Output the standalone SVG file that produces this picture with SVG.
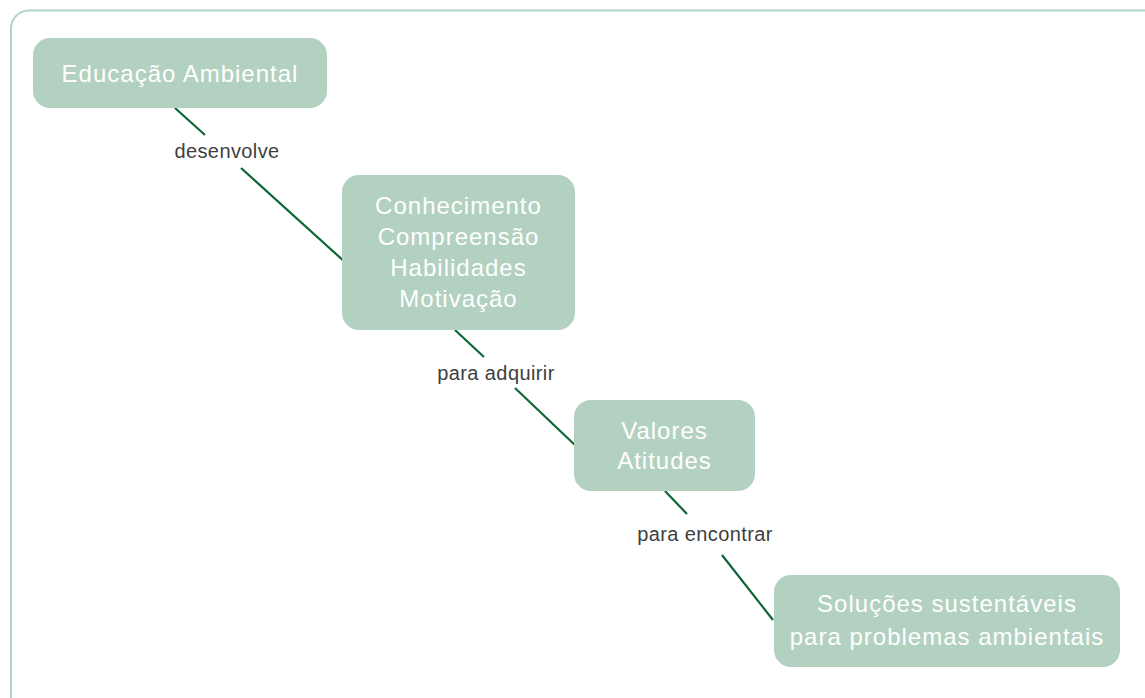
<svg xmlns="http://www.w3.org/2000/svg" width="1145" height="698" viewBox="0 0 1145 698">
<style>
.node{fill:#b3d1c0}
.nt{font-family:"Liberation Sans",Arial,sans-serif;font-size:24px;letter-spacing:1px;fill:#ffffff;text-anchor:middle}
.lt{font-family:"Liberation Sans",Arial,sans-serif;font-size:20px;letter-spacing:0.4px;fill:#404040;text-anchor:middle}
.c{stroke:#0d6636;stroke-width:2.2;fill:none}
</style>
<rect x="11" y="10.5" width="1170" height="705" rx="18" fill="#ffffff" stroke="#b5d3c3" stroke-width="2"/>
<g id="connectors">
<line class="c" x1="175" y1="108" x2="205" y2="135"/>
<line class="c" x1="241" y1="168" x2="346" y2="263"/>
<line class="c" x1="455" y1="330" x2="484" y2="357"/>
<line class="c" x1="515" y1="388" x2="577" y2="447"/>
<line class="c" x1="665" y1="491" x2="687" y2="514"/>
<line class="c" x1="722" y1="555" x2="773" y2="620"/>
<text class="lt" x="227" y="158">desenvolve</text>
<text class="lt" x="496" y="380">para adquirir</text>
<text class="lt" x="705" y="541">para encontrar</text>
</g>
<g id="n1">
<rect class="node" x="33" y="38" width="294" height="70" rx="17"/>
<text class="nt" x="180" y="82">Educação Ambiental</text>
</g>
<g id="n2">
<rect class="node" x="342" y="175" width="233" height="155" rx="17"/>
<text class="nt" x="458.5" y="214">Conhecimento</text>
<text class="nt" x="458.5" y="245">Compreensão</text>
<text class="nt" x="458.5" y="276">Habilidades</text>
<text class="nt" x="458.5" y="307">Motivação</text>
</g>
<g id="n3">
<rect class="node" x="574" y="400" width="181" height="91" rx="17"/>
<text class="nt" x="664.5" y="439">Valores</text>
<text class="nt" x="664.5" y="469">Atitudes</text>
</g>
<g id="n4">
<rect class="node" x="774" y="575" width="346" height="92" rx="17"/>
<text class="nt" x="947" y="612">Soluções sustentáveis</text>
<text class="nt" x="947" y="645">para problemas ambientais</text>
</g>
</svg>
